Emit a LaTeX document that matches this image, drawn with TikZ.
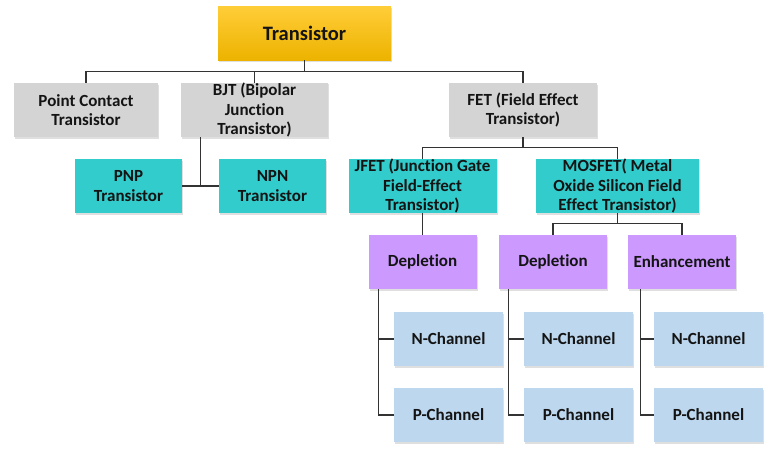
\documentclass[tikz,border=0pt]{standalone}
\usepackage{fontspec}
\setmainfont{Carlito}[Ligatures={NoCommon}]
\usetikzlibrary{shadows,calc}
\definecolor{gr}{HTML}{D4D4D4}
\definecolor{teal2}{HTML}{33CCCC}
\definecolor{purp}{HTML}{CC99FF}
\definecolor{lblue}{HTML}{BDD7EE}
\definecolor{gold1}{HTML}{FFCD38}
\definecolor{gold2}{HTML}{EDB300}
\definecolor{txt}{HTML}{141414}
\definecolor{ln}{HTML}{333333}
\tikzset{
  box/.style={inner sep=0pt, align=center, text=txt, font=\fontsize{17}{19.5}\selectfont\bfseries,
    drop shadow={opacity=0.25, shadow xshift=1pt, shadow yshift=-1.5pt}},
  graybox/.style={box, fill=gr, minimum width=147pt, minimum height=54pt},
  tealbox/.style={box, fill=teal2, minimum height=54pt},
  purpbox/.style={box, fill=purp, minimum width=108pt, minimum height=54pt},
  bluebox/.style={box, fill=lblue, minimum width=109pt, minimum height=54pt},
  conn/.style={draw=ln, line width=1.3pt},
}
\begin{document}
\begin{tikzpicture}[x=1pt,y=-1pt]
\useasboundingbox[fill=white] (0,0) rectangle (777,453);
\node[box, top color=gold1, bottom color=gold2, minimum width=173pt, minimum height=54pt,
  font=\fontsize{20.5}{24}\selectfont\bfseries] (top) at (304.5,33) {Transistor};
\node[graybox, minimum width=144pt] (pc) at (86,110) {Point Contact\\Transistor};
\node[graybox] (bjt) at (254.5,110) {BJT (Bipolar\\Junction\\Transistor)};
\node[graybox, minimum width=148pt] (fet) at (523,110) {FET (Field Effect\\Transistor)};
\node[tealbox, minimum width=107pt] (pnp) at (128.5,186) {PNP\\Transistor};
\node[tealbox, minimum width=107pt] (npn) at (272.5,186) {NPN\\Transistor};
\node[tealbox, minimum width=148pt] (jfet) at (422.5,186) {JFET (Junction Gate\\Field-Effect\\Transistor)};
\node[tealbox, minimum width=163pt] (mos) at (617.5,186) {MOSFET( Metal\\Oxide Silicon Field\\Effect Transistor)};
\node[purpbox] (dep1) at (422.5,262) {Depletion};
\node[purpbox] (dep2) at (553,262) {Depletion};
\node[purpbox] (enh) at (682,262) {Enhancement};
\node[bluebox] (n1) at (448.5,339) {N-Channel};
\node[bluebox] (p1) at (448.5,415) {P-Channel};
\node[bluebox] (n2) at (578.5,339) {N-Channel};
\node[bluebox] (p2) at (578.5,415) {P-Channel};
\node[bluebox] (n3) at (708.5,339) {N-Channel};
\node[bluebox] (p3) at (708.5,415) {P-Channel};
% top level
\draw[conn] (top.south) -- ++(0,12);
\draw[conn] (pc.north) -- ++(0,-11) -| (fet.north);
\draw[conn] (bjt.north) -- ++(0,-11);
% BJT
\coordinate (j) at ($(pnp.east)!0.5!(npn.west)$);
\draw[conn] (pnp.east) -- (npn.west);
\draw[conn] (j) -- (j |- bjt.south);
% FET
\draw[conn] (fet.south) -- ++(0,11);
\draw[conn] (jfet.north) -- ++(0,-11) -| (mos.north);
\draw[conn] (jfet.south) -- (dep1.north);
\draw[conn] (mos.south) -- ++(0,11);
\draw[conn] (dep2.north) -- ++(0,-11) -| (enh.north);
% channels
\foreach \d/\n/\p/\s in {dep1/n1/p1/10, dep2/n2/p2/10, enh/n3/p3/13}{
  \coordinate (a) at ([xshift=\s pt]\d.south west);
  \draw[conn] (a) |- (\p.west);
  \draw[conn] (a |- \n.west) -- (\n.west);
}
\end{tikzpicture}
\end{document}
